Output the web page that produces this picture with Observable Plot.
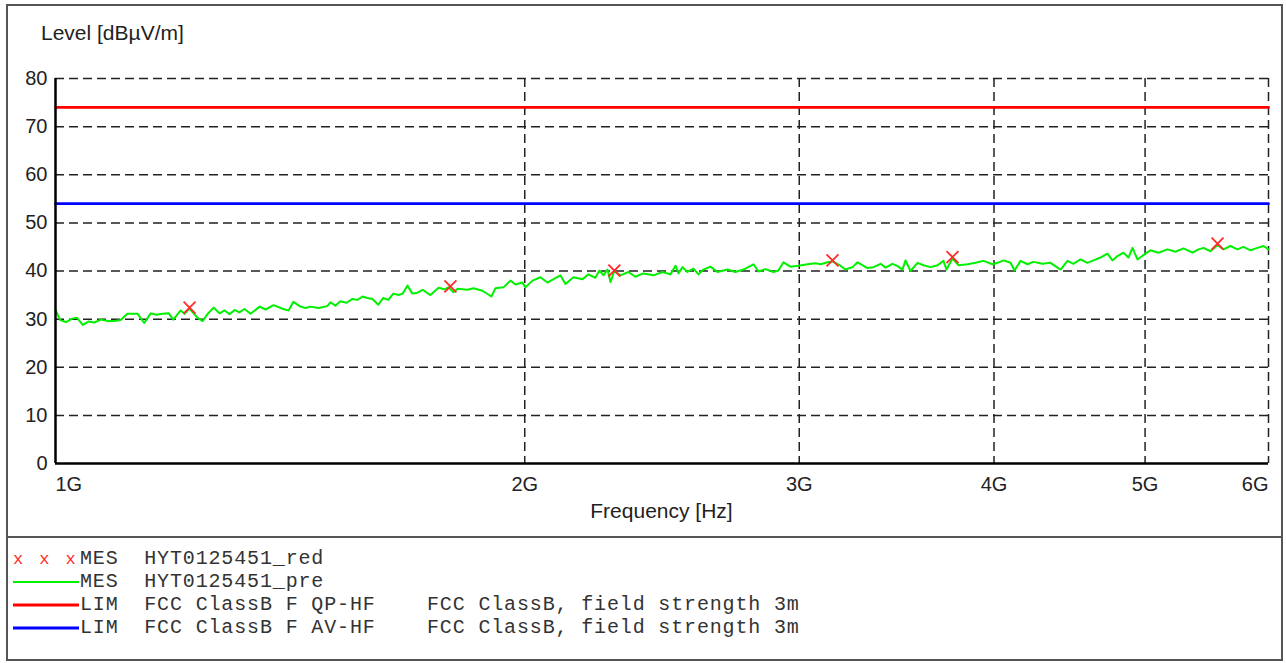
<!DOCTYPE html>
<html><head><meta charset="utf-8">
<script src="https://cdn.jsdelivr.net/npm/d3@7"></script>
<script src="https://cdn.jsdelivr.net/npm/@observablehq/plot@0.6"></script>
<style>
body{margin:0;background:#fff;}
#wrap{position:relative;width:1286px;height:663px;overflow:hidden;font-family:"Liberation Sans",Arial,sans-serif;color:#222;}
#frame{position:absolute;left:6px;top:4px;width:1277px;height:657px;border:2px solid #555;box-sizing:border-box;}
#sep{position:absolute;left:6px;top:536px;width:1277px;height:2px;background:#555;}
#chart{position:absolute;left:0;top:0;}
.ttl{position:absolute;font-size:21px;white-space:nowrap;color:#222;}
#legend{position:absolute;left:0;top:547px;font-family:"Liberation Mono","Courier New",monospace;font-size:20px;letter-spacing:0.85px;color:#333;}
.row{position:relative;height:23px;line-height:23px;white-space:pre;}
.key{position:absolute;left:13px;top:0;width:66px;height:23px;overflow:hidden;}
.txt{position:absolute;left:80px;top:0;}
</style></head>
<body>
<div id="wrap">
  <div id="chart"></div>
  <div class="ttl" id="ytitle" style="left:41px;top:21px;"></div>
  <div class="ttl" id="xtitle" style="left:0;width:1323px;text-align:center;top:499px;"></div>
  <div id="frame"></div>
  <div id="sep"></div>
  <div id="legend"></div>
</div>
<script>
// ---- data (frequency in GHz, level in dBµV/m) ----
const traceFreq = [
1.000,1.007,1.016,1.025,1.032,1.041,1.050,1.059,1.069,1.080,
1.091,1.101,1.112,1.129,1.140,1.151,1.161,1.171,1.182,1.190,
1.203,1.210,1.219,1.233,1.243,1.252,1.263,1.274,1.284,1.293,
1.303,1.312,1.322,1.334,1.352,1.364,1.380,1.400,1.411,1.421,
1.436,1.447,1.457,1.475,1.494,1.501,1.512,1.523,1.537,1.551,
1.562,1.574,1.585,1.597,1.611,1.623,1.635,1.647,1.660,1.670,
1.682,1.694,1.707,1.720,1.740,1.761,1.776,1.787,1.800,1.811,
1.838,1.854,1.879,1.904,1.915,1.938,1.958,1.973,1.993,2.002,
2.023,2.047,2.068,2.087,2.108,2.124,2.149,2.178,2.197,2.220,
2.233,2.247,2.260,2.270,2.283,2.304,2.331,2.355,2.383,2.419,
2.451,2.480,2.499,2.510,2.525,2.543,2.566,2.585,2.604,2.631,
2.659,2.698,2.730,2.763,2.804,2.825,2.854,2.888,2.909,2.931,
2.961,2.997,3.037,3.073,3.096,3.128,3.151,3.188,3.212,3.246,
3.270,3.318,3.348,3.383,3.408,3.443,3.469,3.494,3.510,3.536,
3.573,3.604,3.642,3.680,3.712,3.729,3.762,3.796,3.847,3.892,
3.938,3.991,4.021,4.057,4.099,4.123,4.160,4.203,4.240,4.297,
4.348,4.413,4.459,4.498,4.545,4.592,4.633,4.681,4.730,4.765,
4.800,4.843,4.879,4.908,4.944,5.003,5.040,5.100,5.168,5.230,
5.292,5.363,5.411,5.451,5.507,5.565,5.614,5.672,5.731,5.782,
5.843,5.903,5.956,6.000];
const traceLevel = [
31.9,29.8,29.4,30.1,30.3,28.8,29.5,29.3,29.9,29.6,
29.6,29.8,31.1,31.1,29.2,31.2,30.9,31.1,31.2,29.9,
31.8,31.1,32.2,30.3,29.6,31.1,32.4,31.2,31.8,31.0,
31.9,31.4,32.1,31.1,32.6,32.0,32.9,32.1,31.8,33.6,
32.6,32.3,32.6,32.3,32.7,33.5,32.8,33.7,33.4,34.2,
34.0,34.7,34.4,34.2,33.0,34.4,34.0,35.3,35.0,35.3,
37.0,35.3,35.5,36.1,35.0,36.5,36.2,36.6,35.6,36.3,
36.1,36.4,35.9,34.7,36.4,36.6,38.0,37.2,37.6,36.6,
38.0,38.7,37.6,38.3,39.1,37.3,38.7,38.3,39.3,38.6,
40.1,39.1,40.3,37.7,40.0,39.1,39.8,38.8,39.5,39.1,
39.8,39.3,41.1,39.5,40.8,39.8,40.5,39.3,40.3,40.9,
39.8,40.3,39.8,40.3,41.4,39.9,40.4,39.8,40.1,41.8,
40.9,41.1,41.4,41.6,41.4,41.8,42.0,41.1,40.3,40.8,
41.8,40.6,40.8,41.5,40.7,41.5,41.0,40.3,42.2,40.0,
41.7,41.2,40.8,41.2,42.1,40.3,42.6,41.2,41.4,41.7,
42.1,41.4,41.7,42.2,41.7,40.1,42.1,41.4,41.9,41.5,
41.7,40.3,42.1,41.5,42.4,41.7,42.2,42.8,43.6,42.2,
43.1,43.8,42.8,44.8,42.4,43.6,44.3,43.8,44.5,44.0,
44.7,43.8,44.5,44.8,44.1,45.4,44.5,45.2,44.5,45.0,
44.3,44.8,45.2,44.5];
const markerFreq = [1.219, 1.792, 2.283, 3.151, 3.762, 5.565];
const markerLevel = [32.4, 36.8, 40.1, 42.2, 42.9, 45.7];
const limitFreq = [1, 6];
const qpLimit = [74, 74];
const avLimit = [54, 54];
const yTicks = [0, 10, 20, 30, 40, 50, 60, 70, 80];
const xTicks = [1, 2, 3, 4, 5, 6];
const xTickLabels = ["1G", "2G", "3G", "4G", "5G", "6G"];
const yTitle = "Level [dBµV/m]";
const xTitle = "Frequency [Hz]";
const legendKeys = ["MES", "MES", "LIM", "LIM"];
const legendNames = ["HYT0125451_red", "HYT0125451_pre", "FCC ClassB F QP-HF", "FCC ClassB F AV-HF"];
const legendNotes = ["", "", "FCC ClassB, field strength 3m", "FCC ClassB, field strength 3m"];

// ---- tables ----
const trace = traceFreq.map((f, i) => ({f, v: traceLevel[i]}));
const markers = markerFreq.map((f, i) => ({f, v: markerLevel[i]}));
const qp = limitFreq.map((f, i) => ({f, v: qpLimit[i]}));
const av = limitFreq.map((f, i) => ({f, v: avLimit[i]}));
const fmt = d => xTickLabels[xTicks.indexOf(d)];

const COL = {trace: "#00f000", marker: "#ff2a2a", qp: "#ff0000", av: "#0000ff", grid: "#222"};

const chart = Plot.plot({
  width: 1286, height: 537,
  marginLeft: 55, marginRight: 18, marginTop: 78, marginBottom: 74,
  style: {fontFamily: "'Liberation Sans', Arial, sans-serif", fontSize: "20px", color: "#222", background: "transparent"},
  x: {type: "log", domain: [1, 6], label: null},
  y: {domain: [0, 80], label: null},
  marks: [
    Plot.gridY(yTicks.filter(d => d > 0), {stroke: COL.grid, strokeOpacity: 1, strokeWidth: 1.5, strokeDasharray: "9,5"}),
    Plot.gridX(xTicks.filter(d => d > 1), {stroke: COL.grid, strokeOpacity: 1, strokeWidth: 1.5, strokeDasharray: "9,5"}),
    Plot.line(qp, {x: "f", y: "v", stroke: COL.qp, strokeWidth: 2.6}),
    Plot.line(av, {x: "f", y: "v", stroke: COL.av, strokeWidth: 2.6}),
    Plot.line(trace, {x: "f", y: "v", stroke: COL.trace, strokeWidth: 2}),
    Plot.dot(markers, {x: "f", y: "v", symbol: "times", r: 5.5, stroke: COL.marker, strokeWidth: 1.8}),
    Plot.ruleY([0], {stroke: "#000", strokeWidth: 2.5}),
    Plot.ruleX([1], {stroke: "#000", strokeWidth: 2.5}),
    Plot.axisY(yTicks, {tickSize: 0, tickPadding: 8, label: null, fontSize: 20}),
    Plot.axisX(xTicks.slice(0, 1), {tickSize: 0, tickPadding: 13, textAnchor: "start", tickFormat: fmt, label: null, fontSize: 20}),
    Plot.axisX(xTicks.slice(1, -1), {tickSize: 0, tickPadding: 13, tickFormat: fmt, label: null, fontSize: 20}),
    Plot.axisX(xTicks.slice(-1), {tickSize: 0, tickPadding: 13, textAnchor: "end", tickFormat: fmt, label: null, fontSize: 20})
  ]
});
document.getElementById("chart").appendChild(chart);
document.getElementById("ytitle").textContent = yTitle;
document.getElementById("xtitle").textContent = xTitle;

// ---- legend ----
const legendStyles = [
  {type: "marks", color: COL.marker},
  {type: "line", color: COL.trace, w: 2},
  {type: "line", color: COL.qp, w: 3},
  {type: "line", color: COL.av, w: 3}
];
const leg = d3.select("#legend");
legendKeys.forEach((k, i) => {
  const row = leg.append("div").attr("class", "row");
  const key = row.append("div").attr("class", "key");
  const st = legendStyles[i];
  if (st.type === "marks") {
    key.append("span").style("color", st.color).style("font-size", "17px")
      .style("letter-spacing", "2.9px").text("x x x");
  } else {
    key.append("svg").attr("width", 66).attr("height", 23)
      .append("line").attr("x1", 0).attr("x2", 66).attr("y1", 12).attr("y2", 12)
      .attr("stroke", st.color).attr("stroke-width", st.w);
  }
  let s = k + "  " + legendNames[i];
  if (legendNotes[i]) s = s.padEnd(27, " ") + legendNotes[i];
  row.append("div").attr("class", "txt").text(s);
});
</script>
</body></html>
